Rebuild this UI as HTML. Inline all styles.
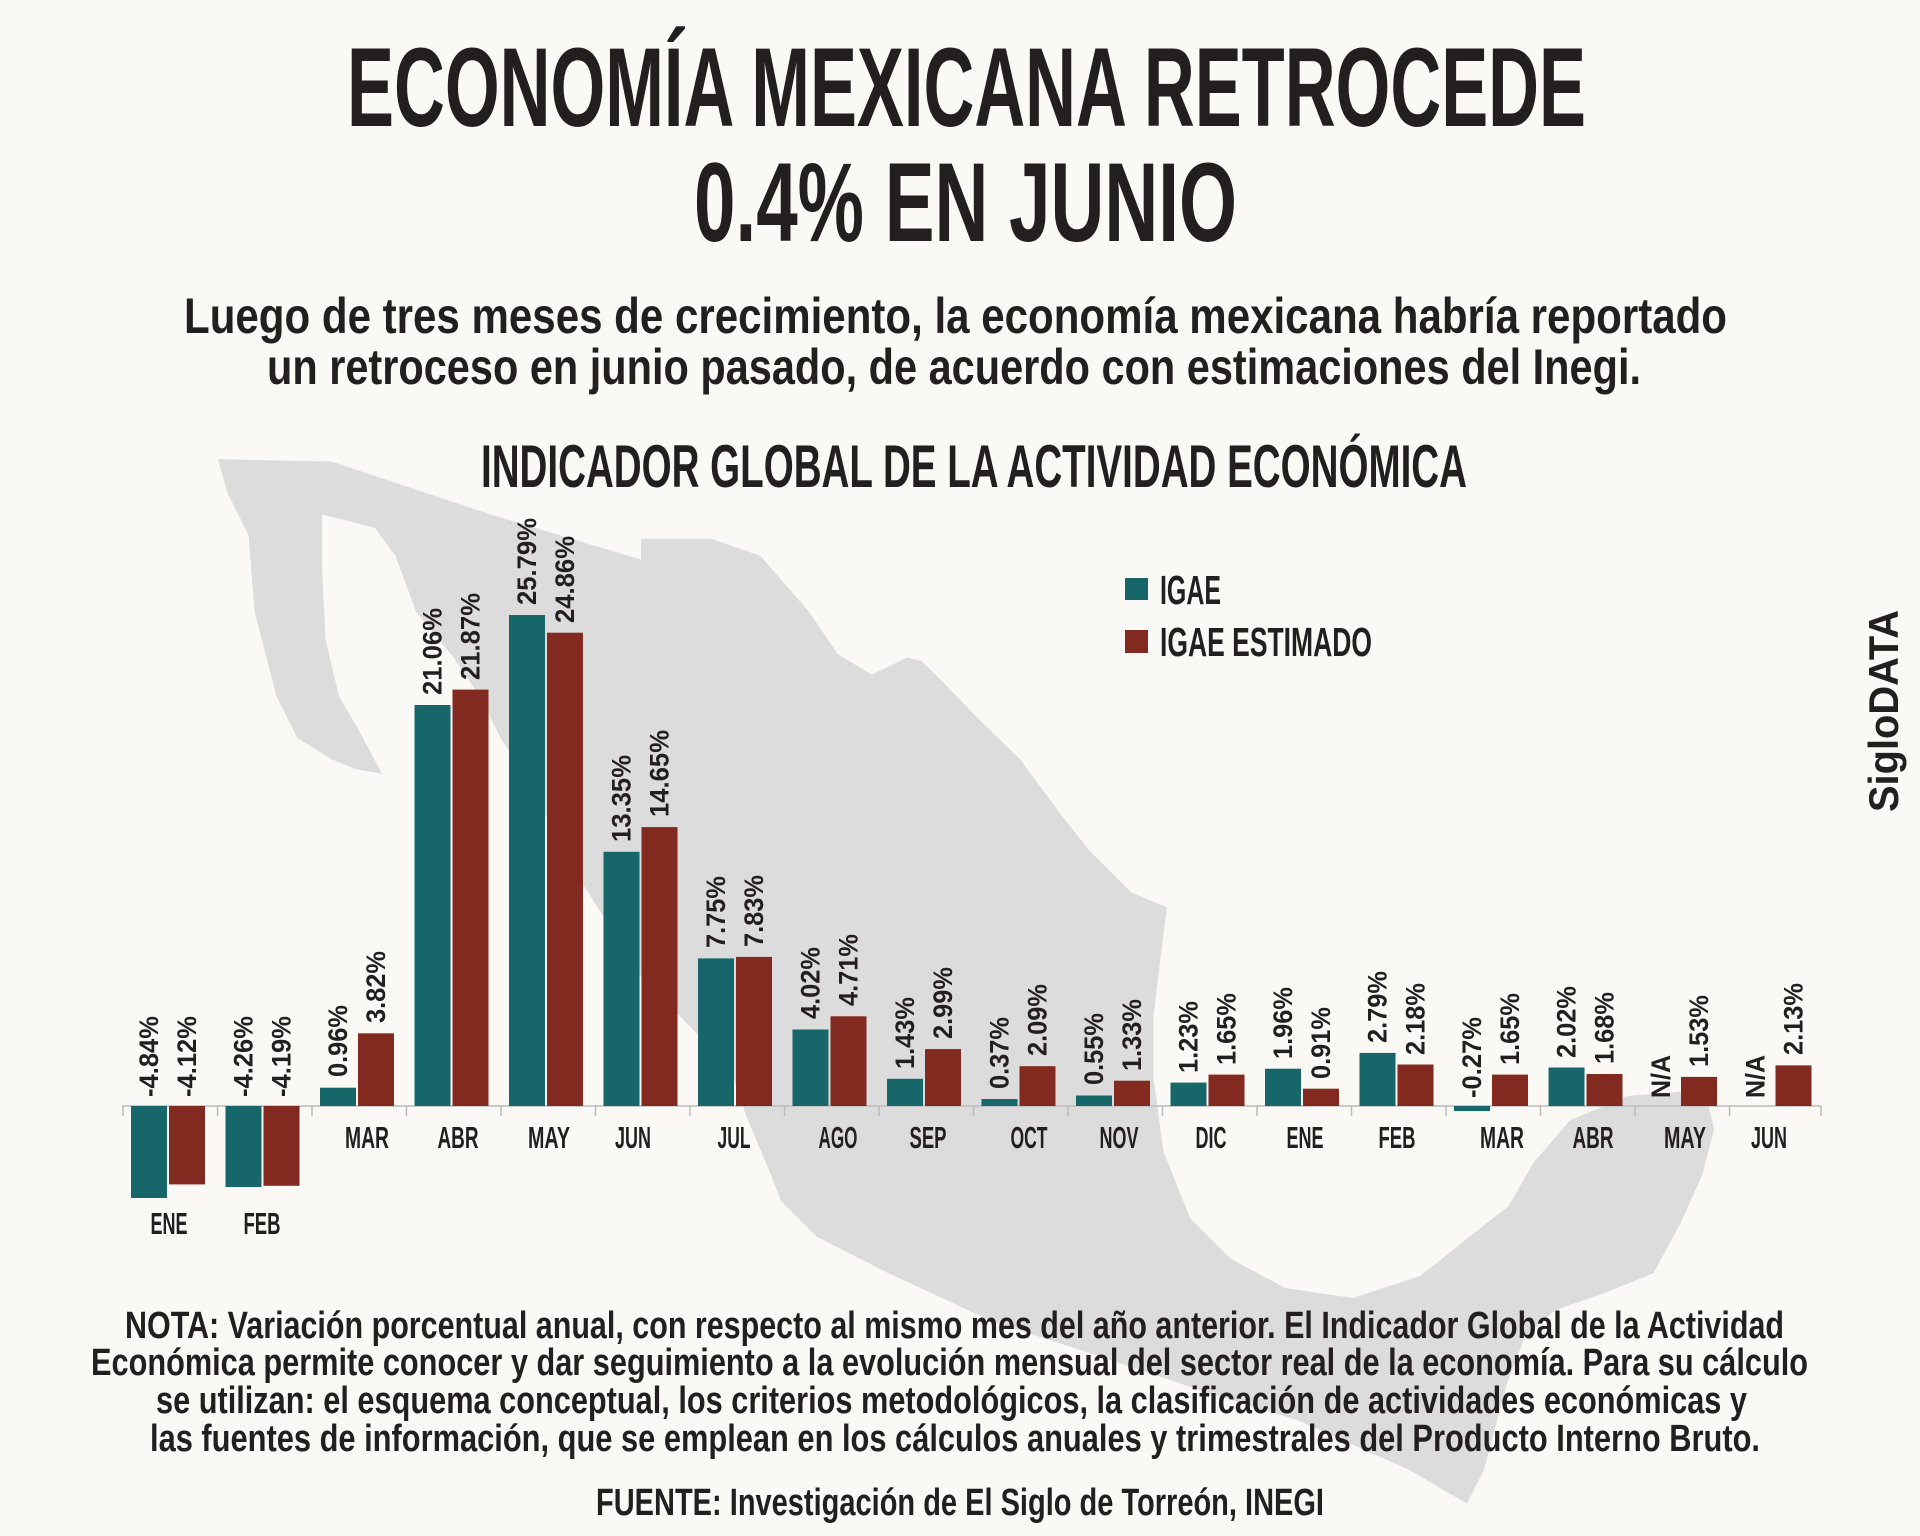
<!DOCTYPE html>
<html><head><meta charset="utf-8"><style>
html,body{margin:0;padding:0;background:#faf9f5;}
svg{display:block;}
text{font-family:"Liberation Sans Narrow","Liberation Sans",sans-serif;font-weight:bold;fill:#231f20;}
.v{font-size:27px;}
.m{font-size:31px;}
</style></head><body>
<svg width="1920" height="1536" viewBox="0 0 1920 1536" xmlns="http://www.w3.org/2000/svg">
<rect width="1920" height="1536" fill="#faf9f5"/>
<g transform="scale(1.2245)">
<polygon fill="#dcdcdc" points="178,375 271,377 400,420 523.5,457 523.5,440 581,440 621,454 661,500 684,534 712,551 741,537 753,540 770,557 798,586 833,620 867,666 890,695 924,729 953,741 948,780 942,830 942,880 950,940 972,995 1005,1028 1050,1052 1105,1060 1160,1042 1200,1010 1232,985 1252,950 1282,915 1330,895 1392,890 1400,922 1390,960 1372,1000 1350,1040 1310,1056 1270,1070 1245,1092 1230,1132 1212,1200 1198,1228 1150,1200 1060,1160 982,1136 896,1107 810,1079 724,1039 667,1010 638,981 627,953 610,913 598,878 569,844 524,798 495,752 466,706 432,638 409,603 392,569 369,535 340,500 323,454 306,431 263,420 263,466 266,523 277,569 294,598 312,632 290,628 271,620 243,603 226,569 208,500 203,437 186,403"/>
</g>
<text x="347" y="126" font-size="112" textLength="1239" lengthAdjust="spacingAndGlyphs">ECONOMÍA MEXICANA RETROCEDE</text>
<text x="694" y="241" font-size="112" textLength="543" lengthAdjust="spacingAndGlyphs">0.4% EN JUNIO</text>
<text x="184" y="333" font-size="50" textLength="1543" lengthAdjust="spacingAndGlyphs">Luego de tres meses de crecimiento, la economía mexicana habría reportado</text>
<text x="267" y="384" font-size="50" textLength="1374" lengthAdjust="spacingAndGlyphs">un retroceso en junio pasado, de acuerdo con estimaciones del Inegi.</text>
<text x="481" y="487" font-size="60" textLength="986" lengthAdjust="spacingAndGlyphs">INDICADOR GLOBAL DE LA ACTIVIDAD ECONÓMICA</text>
<rect x="1125" y="578" width="23" height="22" fill="#17666a"/>
<rect x="1125" y="630" width="23" height="23" fill="#822a20"/>
<text x="1160" y="604" font-size="41" textLength="61" lengthAdjust="spacingAndGlyphs">IGAE</text>
<text x="1160" y="656" font-size="41" textLength="212" lengthAdjust="spacingAndGlyphs">IGAE ESTIMADO</text>
<text transform="translate(1898,812) rotate(-90)" font-size="42" textLength="202" lengthAdjust="spacingAndGlyphs" style="font-family:'Liberation Sans',sans-serif">SigloDATA</text>
<g stroke="#bbbbbb" stroke-width="1.5">
<line x1="122" y1="1106" x2="1821" y2="1106"/>
<line x1="123" y1="1106" x2="123" y2="1116"/><line x1="217.5" y1="1106" x2="217.5" y2="1116"/><line x1="312" y1="1106" x2="312" y2="1116"/><line x1="406.5" y1="1106" x2="406.5" y2="1116"/><line x1="501" y1="1106" x2="501" y2="1116"/><line x1="595.5" y1="1106" x2="595.5" y2="1116"/><line x1="690" y1="1106" x2="690" y2="1116"/><line x1="784.5" y1="1106" x2="784.5" y2="1116"/><line x1="879" y1="1106" x2="879" y2="1116"/><line x1="973.5" y1="1106" x2="973.5" y2="1116"/><line x1="1068" y1="1106" x2="1068" y2="1116"/><line x1="1162.5" y1="1106" x2="1162.5" y2="1116"/><line x1="1257" y1="1106" x2="1257" y2="1116"/><line x1="1351.5" y1="1106" x2="1351.5" y2="1116"/><line x1="1446" y1="1106" x2="1446" y2="1116"/><line x1="1540.5" y1="1106" x2="1540.5" y2="1116"/><line x1="1635" y1="1106" x2="1635" y2="1116"/><line x1="1729.5" y1="1106" x2="1729.5" y2="1116"/><line x1="1821" y1="1106" x2="1821" y2="1116"/>
</g>
<g fill="#17666a">
<rect x="131" y="1106" width="36" height="92"/>
<rect x="225.5" y="1106" width="36" height="81"/>
<rect x="320" y="1087.7" width="36" height="18.3"/>
<rect x="414.5" y="705" width="36" height="401"/>
<rect x="509" y="615" width="36" height="491"/>
<rect x="603.5" y="851.8" width="36" height="254.2"/>
<rect x="698" y="958.4" width="36" height="147.6"/>
<rect x="792.5" y="1029.5" width="36" height="76.5"/>
<rect x="887" y="1078.8" width="36" height="27.2"/>
<rect x="981.5" y="1099" width="36" height="7"/>
<rect x="1076" y="1095.5" width="36" height="10.5"/>
<rect x="1170.5" y="1082.6" width="36" height="23.4"/>
<rect x="1265" y="1068.7" width="36" height="37.3"/>
<rect x="1359.5" y="1052.9" width="36" height="53.1"/>
<rect x="1454" y="1106" width="36" height="5.1"/>
<rect x="1548.5" y="1067.5" width="36" height="38.5"/>
</g>
<g fill="#822a20">
<rect x="169" y="1106" width="36" height="78.4"/>
<rect x="263.5" y="1106" width="36" height="79.8"/>
<rect x="358" y="1033.3" width="36" height="72.7"/>
<rect x="452.5" y="689.6" width="36" height="416.4"/>
<rect x="547" y="632.7" width="36" height="473.3"/>
<rect x="641.5" y="827.1" width="36" height="278.9"/>
<rect x="736" y="956.9" width="36" height="149.1"/>
<rect x="830.5" y="1016.3" width="36" height="89.7"/>
<rect x="925" y="1049.1" width="36" height="56.9"/>
<rect x="1019.5" y="1066.2" width="36" height="39.8"/>
<rect x="1114" y="1080.7" width="36" height="25.3"/>
<rect x="1208.5" y="1074.6" width="36" height="31.4"/>
<rect x="1303" y="1088.7" width="36" height="17.3"/>
<rect x="1397.5" y="1064.5" width="36" height="41.5"/>
<rect x="1492" y="1074.6" width="36" height="31.4"/>
<rect x="1586.5" y="1074" width="36" height="32"/>
<rect x="1681" y="1076.9" width="36" height="29.1"/>
<rect x="1775.5" y="1065.4" width="36" height="40.6"/>
</g>
<g>
<text class="v" transform="translate(158,1097) rotate(-90)" textLength="81" lengthAdjust="spacingAndGlyphs">-4.84%</text>
<text class="v" transform="translate(196,1097) rotate(-90)" textLength="81" lengthAdjust="spacingAndGlyphs">-4.12%</text>
<text class="v" transform="translate(252.5,1097) rotate(-90)" textLength="81" lengthAdjust="spacingAndGlyphs">-4.26%</text>
<text class="v" transform="translate(290.5,1097) rotate(-90)" textLength="81" lengthAdjust="spacingAndGlyphs">-4.19%</text>
<text class="v" transform="translate(347,1077) rotate(-90)" textLength="72" lengthAdjust="spacingAndGlyphs">0.96%</text>
<text class="v" transform="translate(385,1023) rotate(-90)" textLength="72" lengthAdjust="spacingAndGlyphs">3.82%</text>
<text class="v" transform="translate(441.5,695) rotate(-90)" textLength="87" lengthAdjust="spacingAndGlyphs">21.06%</text>
<text class="v" transform="translate(479.5,680) rotate(-90)" textLength="87" lengthAdjust="spacingAndGlyphs">21.87%</text>
<text class="v" transform="translate(536,605) rotate(-90)" textLength="87" lengthAdjust="spacingAndGlyphs">25.79%</text>
<text class="v" transform="translate(574,623) rotate(-90)" textLength="87" lengthAdjust="spacingAndGlyphs">24.86%</text>
<text class="v" transform="translate(630.5,842) rotate(-90)" textLength="87" lengthAdjust="spacingAndGlyphs">13.35%</text>
<text class="v" transform="translate(668.5,817) rotate(-90)" textLength="87" lengthAdjust="spacingAndGlyphs">14.65%</text>
<text class="v" transform="translate(725,948) rotate(-90)" textLength="72" lengthAdjust="spacingAndGlyphs">7.75%</text>
<text class="v" transform="translate(763,947) rotate(-90)" textLength="72" lengthAdjust="spacingAndGlyphs">7.83%</text>
<text class="v" transform="translate(819.5,1019) rotate(-90)" textLength="72" lengthAdjust="spacingAndGlyphs">4.02%</text>
<text class="v" transform="translate(857.5,1006) rotate(-90)" textLength="72" lengthAdjust="spacingAndGlyphs">4.71%</text>
<text class="v" transform="translate(914,1069) rotate(-90)" textLength="72" lengthAdjust="spacingAndGlyphs">1.43%</text>
<text class="v" transform="translate(952,1039) rotate(-90)" textLength="72" lengthAdjust="spacingAndGlyphs">2.99%</text>
<text class="v" transform="translate(1008.5,1089) rotate(-90)" textLength="72" lengthAdjust="spacingAndGlyphs">0.37%</text>
<text class="v" transform="translate(1046.5,1056) rotate(-90)" textLength="72" lengthAdjust="spacingAndGlyphs">2.09%</text>
<text class="v" transform="translate(1103,1085) rotate(-90)" textLength="72" lengthAdjust="spacingAndGlyphs">0.55%</text>
<text class="v" transform="translate(1141,1071) rotate(-90)" textLength="72" lengthAdjust="spacingAndGlyphs">1.33%</text>
<text class="v" transform="translate(1197.5,1073) rotate(-90)" textLength="72" lengthAdjust="spacingAndGlyphs">1.23%</text>
<text class="v" transform="translate(1235.5,1065) rotate(-90)" textLength="72" lengthAdjust="spacingAndGlyphs">1.65%</text>
<text class="v" transform="translate(1292,1059) rotate(-90)" textLength="72" lengthAdjust="spacingAndGlyphs">1.96%</text>
<text class="v" transform="translate(1330,1079) rotate(-90)" textLength="72" lengthAdjust="spacingAndGlyphs">0.91%</text>
<text class="v" transform="translate(1386.5,1043) rotate(-90)" textLength="72" lengthAdjust="spacingAndGlyphs">2.79%</text>
<text class="v" transform="translate(1424.5,1055) rotate(-90)" textLength="72" lengthAdjust="spacingAndGlyphs">2.18%</text>
<text class="v" transform="translate(1481,1098) rotate(-90)" textLength="81" lengthAdjust="spacingAndGlyphs">-0.27%</text>
<text class="v" transform="translate(1519,1065) rotate(-90)" textLength="72" lengthAdjust="spacingAndGlyphs">1.65%</text>
<text class="v" transform="translate(1575.5,1058) rotate(-90)" textLength="72" lengthAdjust="spacingAndGlyphs">2.02%</text>
<text class="v" transform="translate(1613.5,1064) rotate(-90)" textLength="72" lengthAdjust="spacingAndGlyphs">1.68%</text>
<text class="v" transform="translate(1670,1098) rotate(-90)" textLength="43" lengthAdjust="spacingAndGlyphs">N/A</text>
<text class="v" transform="translate(1708,1067) rotate(-90)" textLength="72" lengthAdjust="spacingAndGlyphs">1.53%</text>
<text class="v" transform="translate(1764.5,1098) rotate(-90)" textLength="43" lengthAdjust="spacingAndGlyphs">N/A</text>
<text class="v" transform="translate(1802.5,1055) rotate(-90)" textLength="72" lengthAdjust="spacingAndGlyphs">2.13%</text>
</g>
<g text-anchor="middle">
<text class="m" x="169" y="1234" textLength="37" lengthAdjust="spacingAndGlyphs">ENE</text>
<text class="m" x="262" y="1234" textLength="37" lengthAdjust="spacingAndGlyphs">FEB</text>
<text class="m" x="367" y="1148" textLength="44" lengthAdjust="spacingAndGlyphs">MAR</text>
<text class="m" x="458" y="1148" textLength="41" lengthAdjust="spacingAndGlyphs">ABR</text>
<text class="m" x="549" y="1148" textLength="42" lengthAdjust="spacingAndGlyphs">MAY</text>
<text class="m" x="633" y="1148" textLength="36" lengthAdjust="spacingAndGlyphs">JUN</text>
<text class="m" x="734" y="1148" textLength="33" lengthAdjust="spacingAndGlyphs">JUL</text>
<text class="m" x="838" y="1148" textLength="39" lengthAdjust="spacingAndGlyphs">AGO</text>
<text class="m" x="928" y="1148" textLength="37" lengthAdjust="spacingAndGlyphs">SEP</text>
<text class="m" x="1029" y="1148" textLength="37" lengthAdjust="spacingAndGlyphs">OCT</text>
<text class="m" x="1119" y="1148" textLength="39" lengthAdjust="spacingAndGlyphs">NOV</text>
<text class="m" x="1211" y="1148" textLength="31" lengthAdjust="spacingAndGlyphs">DIC</text>
<text class="m" x="1305" y="1148" textLength="37" lengthAdjust="spacingAndGlyphs">ENE</text>
<text class="m" x="1397" y="1148" textLength="37" lengthAdjust="spacingAndGlyphs">FEB</text>
<text class="m" x="1502" y="1148" textLength="44" lengthAdjust="spacingAndGlyphs">MAR</text>
<text class="m" x="1593" y="1148" textLength="41" lengthAdjust="spacingAndGlyphs">ABR</text>
<text class="m" x="1685" y="1148" textLength="42" lengthAdjust="spacingAndGlyphs">MAY</text>
<text class="m" x="1769" y="1148" textLength="36" lengthAdjust="spacingAndGlyphs">JUN</text>
</g>
<text x="125" y="1338" font-size="38" textLength="1659" lengthAdjust="spacingAndGlyphs">NOTA: Variación porcentual anual, con respecto al mismo mes del año anterior. El Indicador Global de la Actividad</text>
<text x="91" y="1375" font-size="38" textLength="1717" lengthAdjust="spacingAndGlyphs">Económica permite conocer y dar seguimiento a la evolución mensual del sector real de la economía. Para su cálculo</text>
<text x="156" y="1413" font-size="38" textLength="1591" lengthAdjust="spacingAndGlyphs">se utilizan: el esquema conceptual, los criterios metodológicos, la clasificación de actividades económicas y</text>
<text x="150" y="1451" font-size="38" textLength="1610" lengthAdjust="spacingAndGlyphs">las fuentes de información, que se emplean en los cálculos anuales y trimestrales del Producto Interno Bruto.</text>
<text x="596" y="1515" font-size="38" textLength="728" lengthAdjust="spacingAndGlyphs">FUENTE: Investigación de El Siglo de Torreón, INEGI</text>
</svg>
</body></html>
